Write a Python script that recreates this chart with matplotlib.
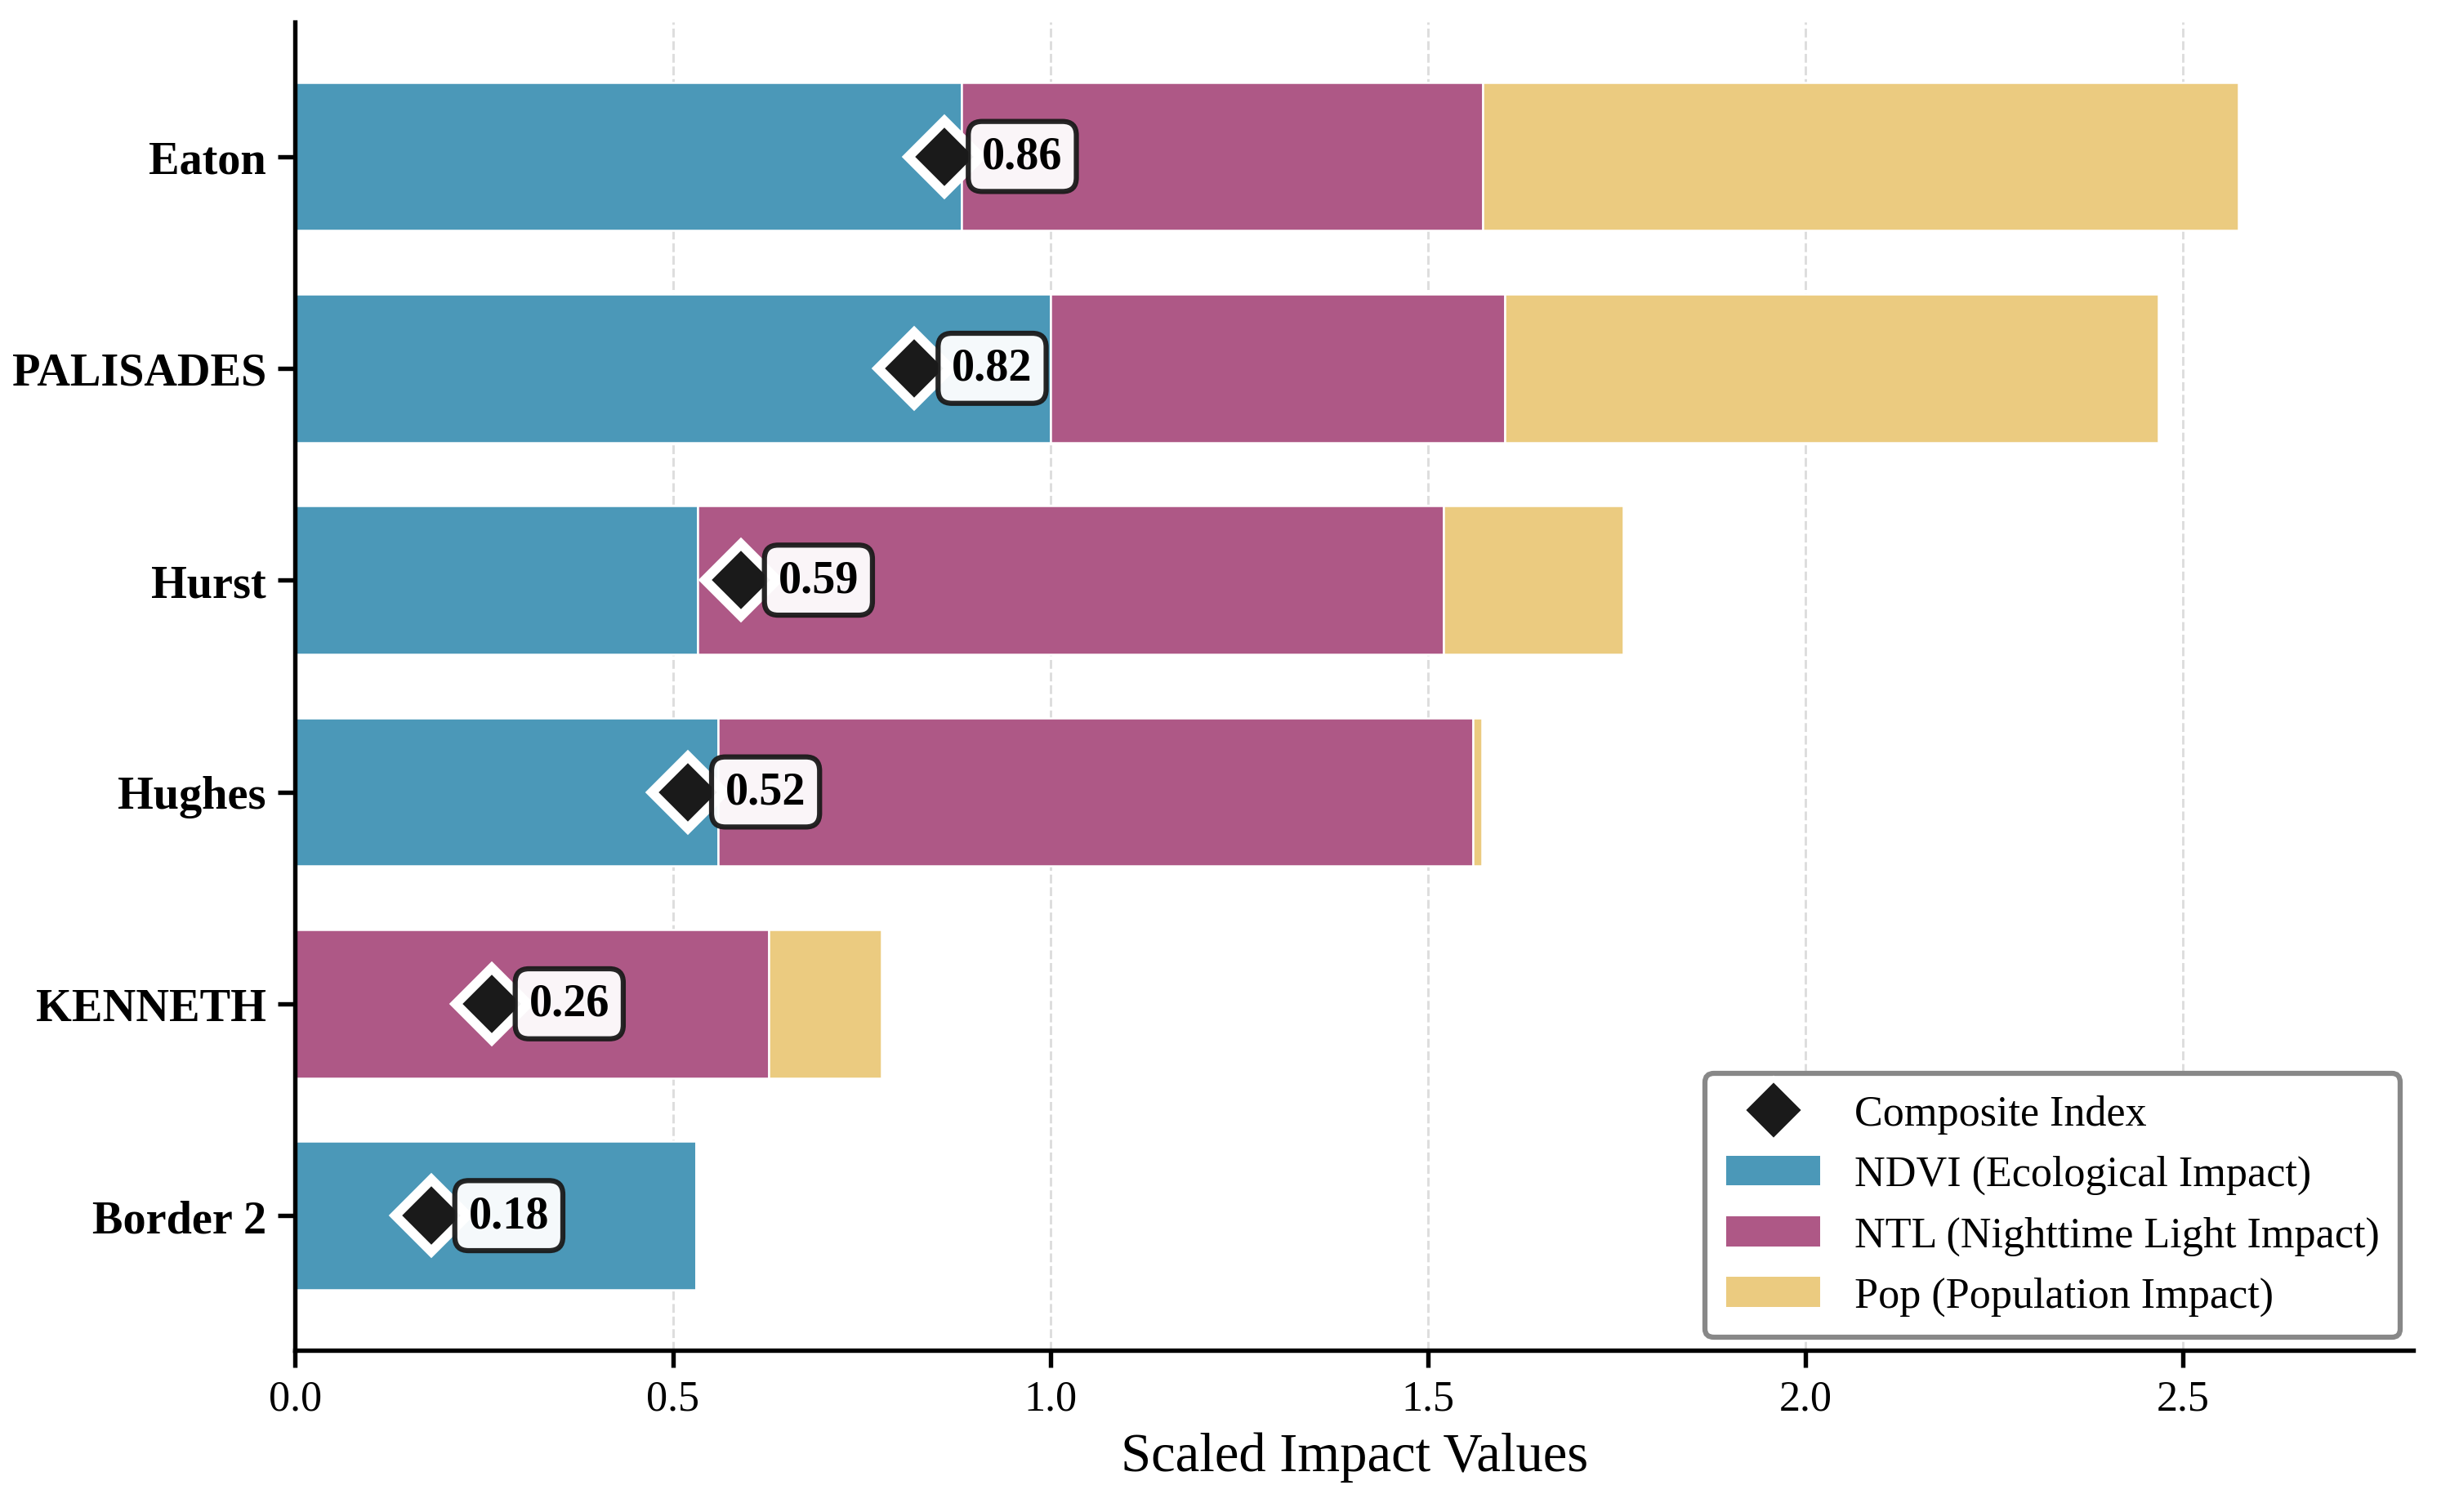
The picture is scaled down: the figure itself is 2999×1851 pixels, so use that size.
import numpy as np
import matplotlib
matplotlib.use('Agg')
import matplotlib.pyplot as plt
from matplotlib.lines import Line2D
from matplotlib.patches import Patch

plt.rcParams['font.family'] = ['Liberation Serif', 'DejaVu Serif']

regions = ['Eaton', 'PALISADES', 'Hurst', 'Hughes', 'KENNETH', 'Border 2']
ndvi = [0.882, 1.000, 0.533, 0.560, 0.000, 0.531]
ntl = [0.691, 0.602, 0.988, 1.000, 0.627, 0.000]
pop = [1.000, 0.865, 0.238, 0.011, 0.149, 0.000]
composite = [0.86, 0.82, 0.59, 0.52, 0.26, 0.18]

c_ndvi = '#4B98B8'
c_ntl = '#AE5886'
c_pop = '#EBCB80'

ndvi = np.array(ndvi)
ntl = np.array(ntl)
pop = np.array(pop)
y = np.arange(len(regions))[::-1]

fig, ax = plt.subplots(figsize=(9.997, 6.173), dpi=300)
fig.subplots_adjust(left=0.1205, right=0.985, top=0.985, bottom=0.107)

h = 0.7
ax.barh(y, ndvi, height=h, color=c_ndvi, edgecolor='white', linewidth=0.6, zorder=2)
ax.barh(y, ntl, left=ndvi, height=h, color=c_ntl, edgecolor='white', linewidth=0.6, zorder=2)
ax.barh(y, pop, left=ndvi + ntl, height=h, color=c_pop, edgecolor='white', linewidth=0.6, zorder=2)

# composite index markers + value boxes
ax.plot(composite, y, linestyle='none', marker='D', markersize=15,
        markerfacecolor='#1a1a1a', markeredgecolor='white', markeredgewidth=2.8, zorder=4)
for v, yy in zip(composite, y):
    ax.annotate(f'{v:.2f}', (v, yy), xytext=(11, 0), textcoords='offset points',
                ha='left', va='center', fontsize=13.5, fontweight='bold', zorder=5,
                bbox=dict(boxstyle='round,pad=0.3', fc='white', ec='#1a1a1a', lw=1.5, alpha=0.95))

ax.set_xlim(0, 2.805)
ax.set_yticks(y)
ax.set_yticklabels(regions, fontsize=13.5, fontweight='bold')
ax.set_xticks([0.0, 0.5, 1.0, 1.5, 2.0, 2.5])
ax.set_xticklabels(['0.0', '0.5', '1.0', '1.5', '2.0', '2.5'], fontsize=12.5)
ax.set_xlabel('Scaled Impact Values', fontsize=16)

ax.grid(axis='x', linestyle='--', color='#dddddd', linewidth=0.7)
ax.set_axisbelow(True)
for s in ['top', 'right']:
    ax.spines[s].set_visible(False)
for s in ['left', 'bottom']:
    ax.spines[s].set_linewidth(1.3)
ax.tick_params(axis='both', width=1.3, length=5)

handles = [
    Line2D([], [], linestyle='none', marker='D', markersize=13, markerfacecolor='#1a1a1a',
           markeredgecolor='white', markeredgewidth=1.5, label='Composite Index'),
    Patch(facecolor=c_ndvi, label='NDVI (Ecological Impact)'),
    Patch(facecolor=c_ntl, label='NTL (Nighttime Light Impact)'),
    Patch(facecolor=c_pop, label='Pop (Population Impact)'),
]
leg = ax.legend(handles=handles, loc='lower right', fontsize=12.5, frameon=True,
                fancybox=True, framealpha=1, borderpad=0.5, handlelength=2.2,
                borderaxespad=0.3)
leg.get_frame().set_edgecolor('#888888')
leg.get_frame().set_linewidth(1.5)

fig.savefig('out.png', dpi=300)
